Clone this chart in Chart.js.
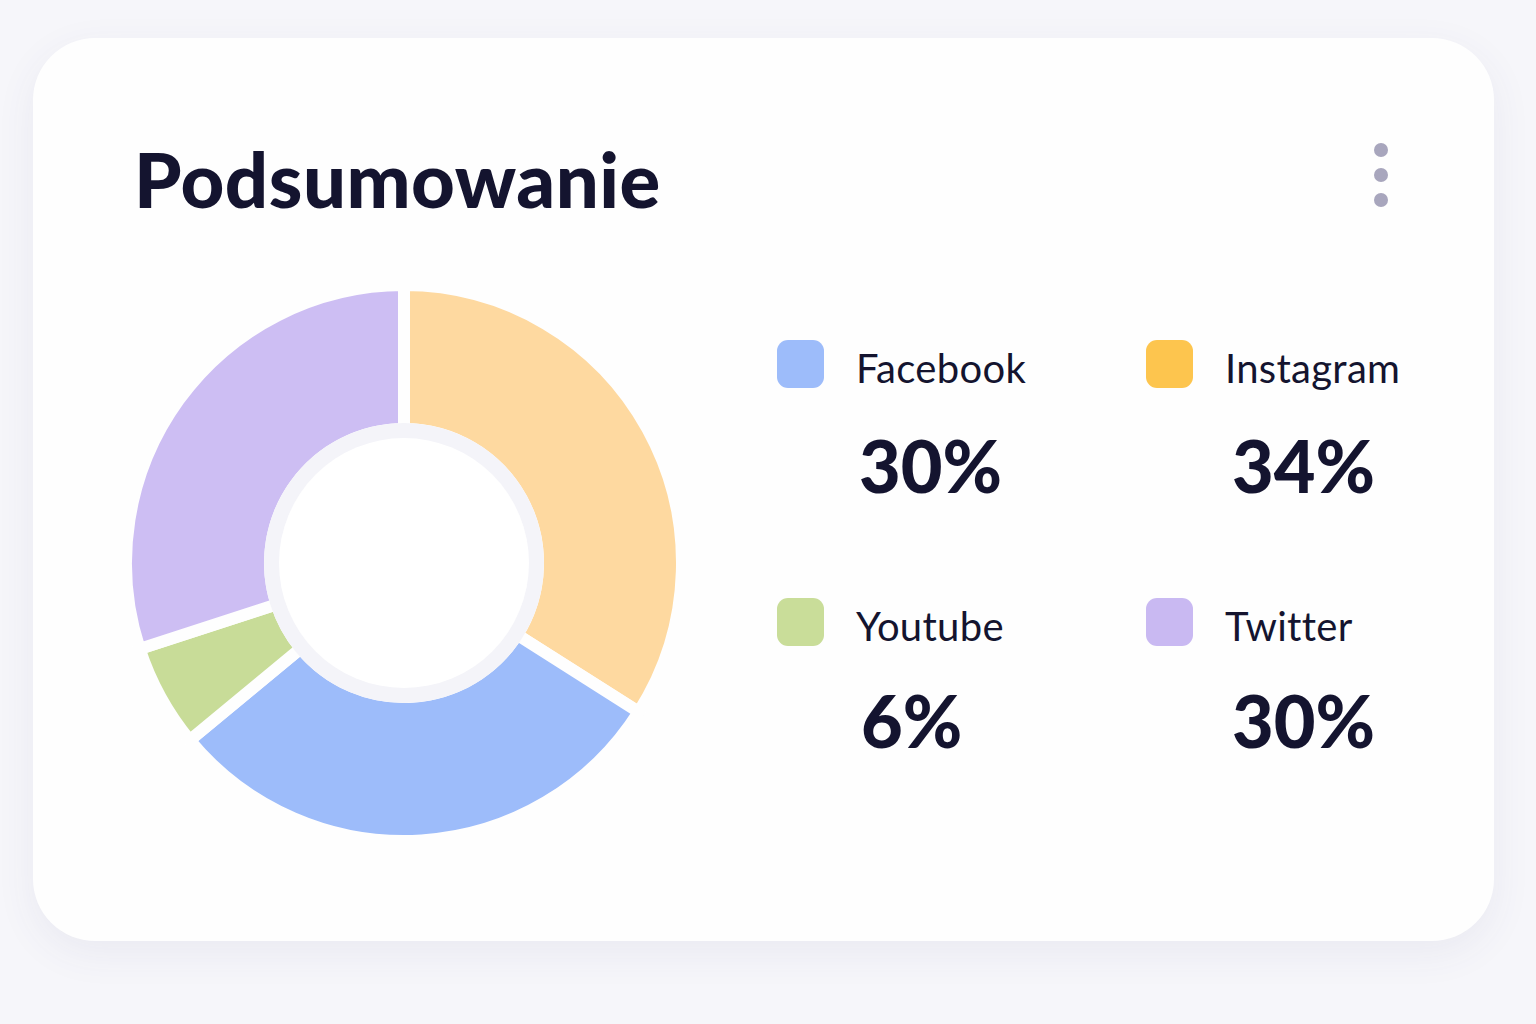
<!DOCTYPE html>
<html lang="pl">
<head>
<meta charset="utf-8">
<title>Podsumowanie</title>
<script src="https://cdn.jsdelivr.net/npm/chart.js@4/dist/chart.umd.min.js"></script>
<style>
  html, body { margin: 0; padding: 0; }
  body {
    width: 1536px; height: 1024px; position: relative; overflow: hidden;
    background: #f6f6fa; font-family: Lato, "Noto Sans", sans-serif; color: #14142f;
  }
  .card {
    position: absolute; left: 33px; top: 38px; width: 1461px; height: 903px;
    border-radius: 62px; background: #fefefe;
    box-shadow: 0 12px 40px rgba(70, 70, 130, 0.07);
  }
  h1 {
    position: absolute; left: 134px; top: 141px; margin: 0;
    font-size: 76px; line-height: 1; font-weight: 900; letter-spacing: 0.5px;
  }
  .dot {
    position: absolute; left: 1374px; width: 14px; height: 14px;
    border-radius: 50%; background: #a8a6bd;
  }
  #chartBox { position: absolute; left: 124px; top: 283px; width: 560px; height: 560px; }
  .swatch { position: absolute; width: 47px; height: 48px; border-radius: 11px; }
  .name { position: absolute; font-size: 40px; line-height: 1; font-weight: 400; letter-spacing: 0.3px; white-space: nowrap; }
  .pct { position: absolute; font-size: 72px; line-height: 1; font-weight: 900; white-space: nowrap; }
</style>
</head>
<body>
<div class="card"></div>
<h1>Podsumowanie</h1>
<div class="dot" style="top:143px"></div>
<div class="dot" style="top:168px"></div>
<div class="dot" style="top:193px"></div>
<div id="chartBox"><canvas id="summaryChart" width="560" height="560"></canvas></div>
<div id="legend"></div>

<script>
// legend order (2x2 grid, row by row)
const platforms = ["Facebook", "Instagram", "Youtube", "Twitter"];
const shares = [30, 34, 6, 30];
const sliceColors = ["#9dbcfa", "#fed9a0", "#c8dc98", "#cdbef3"];
const swatchColors = ["#9dbcfa", "#fdc54e", "#c9dd99", "#c9b9f2"];
// the ring starts at 12 o'clock with Instagram and goes clockwise
const ringOrder = [1, 0, 2, 3];

const legendSlots = [
  { x: 777, y: 340, pctX: 859, pctY: 429 },
  { x: 1146, y: 340, pctX: 1232, pctY: 429 },
  { x: 777, y: 598, pctX: 861, pctY: 684 },
  { x: 1146, y: 598, pctX: 1232, pctY: 684 }
];

const buildLegend = () => {
  const legend = document.getElementById("legend");
  platforms.forEach((name, i) => {
    const slot = legendSlots[i];
    const swatch = document.createElement("div");
    swatch.className = "swatch";
    swatch.style.left = slot.x + "px";
    swatch.style.top = slot.y + "px";
    swatch.style.background = swatchColors[i];
    legend.appendChild(swatch);

    const label = document.createElement("div");
    label.className = "name";
    label.textContent = name;
    label.style.left = slot.x + 79 + "px";
    label.style.top = slot.y + 8 + "px";
    legend.appendChild(label);

    const pct = document.createElement("div");
    pct.className = "pct";
    pct.textContent = shares[i] + "%";
    pct.style.left = slot.pctX + "px";
    pct.style.top = slot.pctY + "px";
    legend.appendChild(pct);
  });
};

// soft grey ring just inside the hole
const innerRing = {
  id: "innerRing",
  afterDatasetsDraw(chart) {
    const arc = chart.getDatasetMeta(0).data[0];
    if (!arc) return;
    const { ctx } = chart;
    const r = arc.innerRadius + 6;
    ctx.save();
    ctx.beginPath();
    ctx.arc(arc.x, arc.y, r, 0, Math.PI * 2);
    ctx.fillStyle = "#f4f4f9";
    ctx.fill();
    ctx.beginPath();
    ctx.arc(arc.x, arc.y, r - 15, 0, Math.PI * 2);
    ctx.fillStyle = "#ffffff";
    ctx.fill();
    ctx.restore();
  }
};

const renderChart = () => {
  const ctx = document.getElementById("summaryChart").getContext("2d");
  new Chart(ctx, {
    type: "doughnut",
    data: {
      labels: ringOrder.map((i) => platforms[i]),
      datasets: [
        {
          data: ringOrder.map((i) => shares[i]),
          backgroundColor: ringOrder.map((i) => sliceColors[i]),
          borderColor: "#fefefe",
          borderWidth: 12,
          borderJoinStyle: "miter"
        }
      ]
    },
    options: {
      responsive: false,
      animation: false,
      radius: 278,
      cutout: "48.2%",
      plugins: {
        legend: { display: false },
        tooltip: { enabled: false }
      }
    },
    plugins: [innerRing]
  });
};

document.addEventListener("DOMContentLoaded", () => {
  buildLegend();
  renderChart();
});
</script>
</body>
</html>
